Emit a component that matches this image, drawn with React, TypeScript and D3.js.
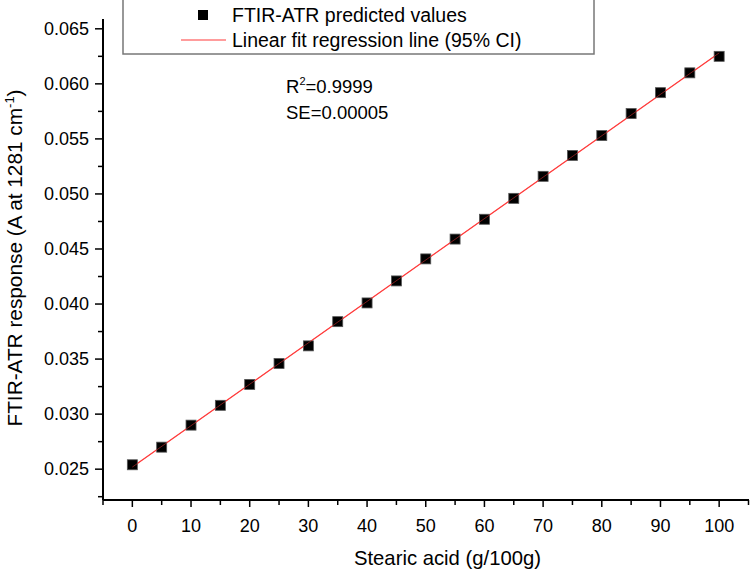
import React from "react";
import * as d3 from "d3";

const xValues = [0, 5, 10, 15, 20, 25, 30, 35, 40, 45, 50, 55, 60, 65, 70, 75, 80, 85, 90, 95, 100];
const yValues = [0.0254, 0.0270, 0.0290, 0.0308, 0.0327, 0.0346, 0.0362, 0.0384, 0.0401, 0.0421, 0.0441, 0.0459, 0.0477, 0.0496, 0.0516, 0.0535, 0.0553, 0.0573, 0.0592, 0.0610, 0.0625];
const xMajorTicks = [0, 10, 20, 30, 40, 50, 60, 70, 80, 90, 100];
const xMinorTicks = [-5, 5, 15, 25, 35, 45, 55, 65, 75, 85, 95, 105];
const yMajorTicks = [0.025, 0.030, 0.035, 0.040, 0.045, 0.050, 0.055, 0.060, 0.065];
const yMinorTicks = [0.0225, 0.0275, 0.0325, 0.0375, 0.0425, 0.0475, 0.0525, 0.0575, 0.0625];
const legendLabels = ["FTIR-ATR predicted values", "Linear fit regression line (95% CI)"];
const statsLabels = ["0.9999", "SE=0.00005"];

const FONT = "'Liberation Sans', Arial, sans-serif";

export default function App() {
  const W = 750, H = 570;
  const x = d3.scaleLinear().domain([-5, 105]).range([103, 748.5]);
  const y = d3.scaleLinear().domain([0.0222, 0.0658]).range([500, 20]);

  // least-squares fit computed from the data
  const n = xValues.length;
  const mx = d3.mean(xValues)!;
  const my = d3.mean(yValues)!;
  let sxy = 0, sxx = 0;
  for (let i = 0; i < n; i++) {
    sxy += (xValues[i] - mx) * (yValues[i] - my);
    sxx += (xValues[i] - mx) ** 2;
  }
  const slope = sxy / sxx;
  const intercept = my - slope * mx;
  const fitLine = d3.line<number>().x((d) => x(d)).y((d) => y(intercept + slope * d));
  const fitX = [0, 100];

  const x0 = 103, yBase = 500;
  const ms = 10;

  return (
    <svg width={W} height={H} style={{ position: "absolute", left: 0, top: 0, background: "#fff" }} fontFamily={FONT}>
      <rect x={0} y={0} width={W} height={H} fill="#fff" />
      {/* axes */}
      <line x1={x0} y1={19} x2={x0} y2={yBase} stroke="#000" strokeWidth={2} />
      <line x1={x0} y1={yBase} x2={749} y2={yBase} stroke="#000" strokeWidth={2} />
      {yMajorTicks.map((t) => (
        <g key={"ym" + t}>
          <line x1={x0 - 8} x2={x0} y1={y(t)} y2={y(t)} stroke="#000" strokeWidth={1.5} />
          <text x={x0 - 14} y={y(t)} dy="0.35em" textAnchor="end" fontSize={18}>{t.toFixed(3)}</text>
        </g>
      ))}
      {yMinorTicks.map((t) => (
        <line key={"yn" + t} x1={x0 - 5} x2={x0} y1={y(t)} y2={y(t)} stroke="#000" strokeWidth={1.5} />
      ))}
      {xMajorTicks.map((t) => (
        <g key={"xm" + t}>
          <line x1={x(t)} x2={x(t)} y1={yBase} y2={yBase + 7} stroke="#000" strokeWidth={1.5} />
          <text x={x(t)} y={yBase + 32} textAnchor="middle" fontSize={18}>{t}</text>
        </g>
      ))}
      {xMinorTicks.map((t) => (
        <line key={"xn" + t} x1={x(t)} x2={x(t)} y1={yBase} y2={yBase + 5} stroke="#000" strokeWidth={1.5} />
      ))}
      {/* axis titles */}
      <text x={447.5} y={565} textAnchor="middle" fontSize={20.3}>Stearic acid (g/100g)</text>
      <text transform="translate(22,258) rotate(-90)" textAnchor="middle" fontSize={20.8}>
        FTIR-ATR response (A at 1281 cm<tspan dy={-8} fontSize={13}>-1</tspan><tspan dy={8}>)</tspan>
      </text>
      {/* fit line */}
      <path d={fitLine(fitX)!} fill="none" stroke="#ff3b3b" strokeWidth={1.2} />
      {/* points */}
      {xValues.map((xv, i) => (
        <rect key={i} x={x(xv) - ms / 2} y={y(yValues[i]) - ms / 2} width={ms} height={ms} fill="#000" stroke="#555" strokeWidth={0.8} />
      ))}
      {/* red line visible over squares */}
      <path d={fitLine(fitX)!} fill="none" stroke="#ff3b3b" strokeWidth={0.8} opacity={0.6} />
      {/* legend */}
      <rect x={123} y={-2} width={471} height={56} fill="#fff" stroke="#777" strokeWidth={1.5} />
      <rect x={198} y={10} width={10} height={10} fill="#000" />
      <text x={232} y={22} fontSize={19.5}>{legendLabels[0]}</text>
      <line x1={181} x2={226} y1={40} y2={40} stroke="#ff3b3b" strokeWidth={1.2} />
      <text x={232} y={47} fontSize={19.5}>{legendLabels[1]}</text>
      {/* stats */}
      <text x={286} y={93} fontSize={18.5}>R<tspan dy={-8} fontSize={11}>2</tspan><tspan dy={8}>={statsLabels[0]}</tspan></text>
      <text x={286} y={119} fontSize={18.5}>{statsLabels[1]}</text>
    </svg>
  );
}
